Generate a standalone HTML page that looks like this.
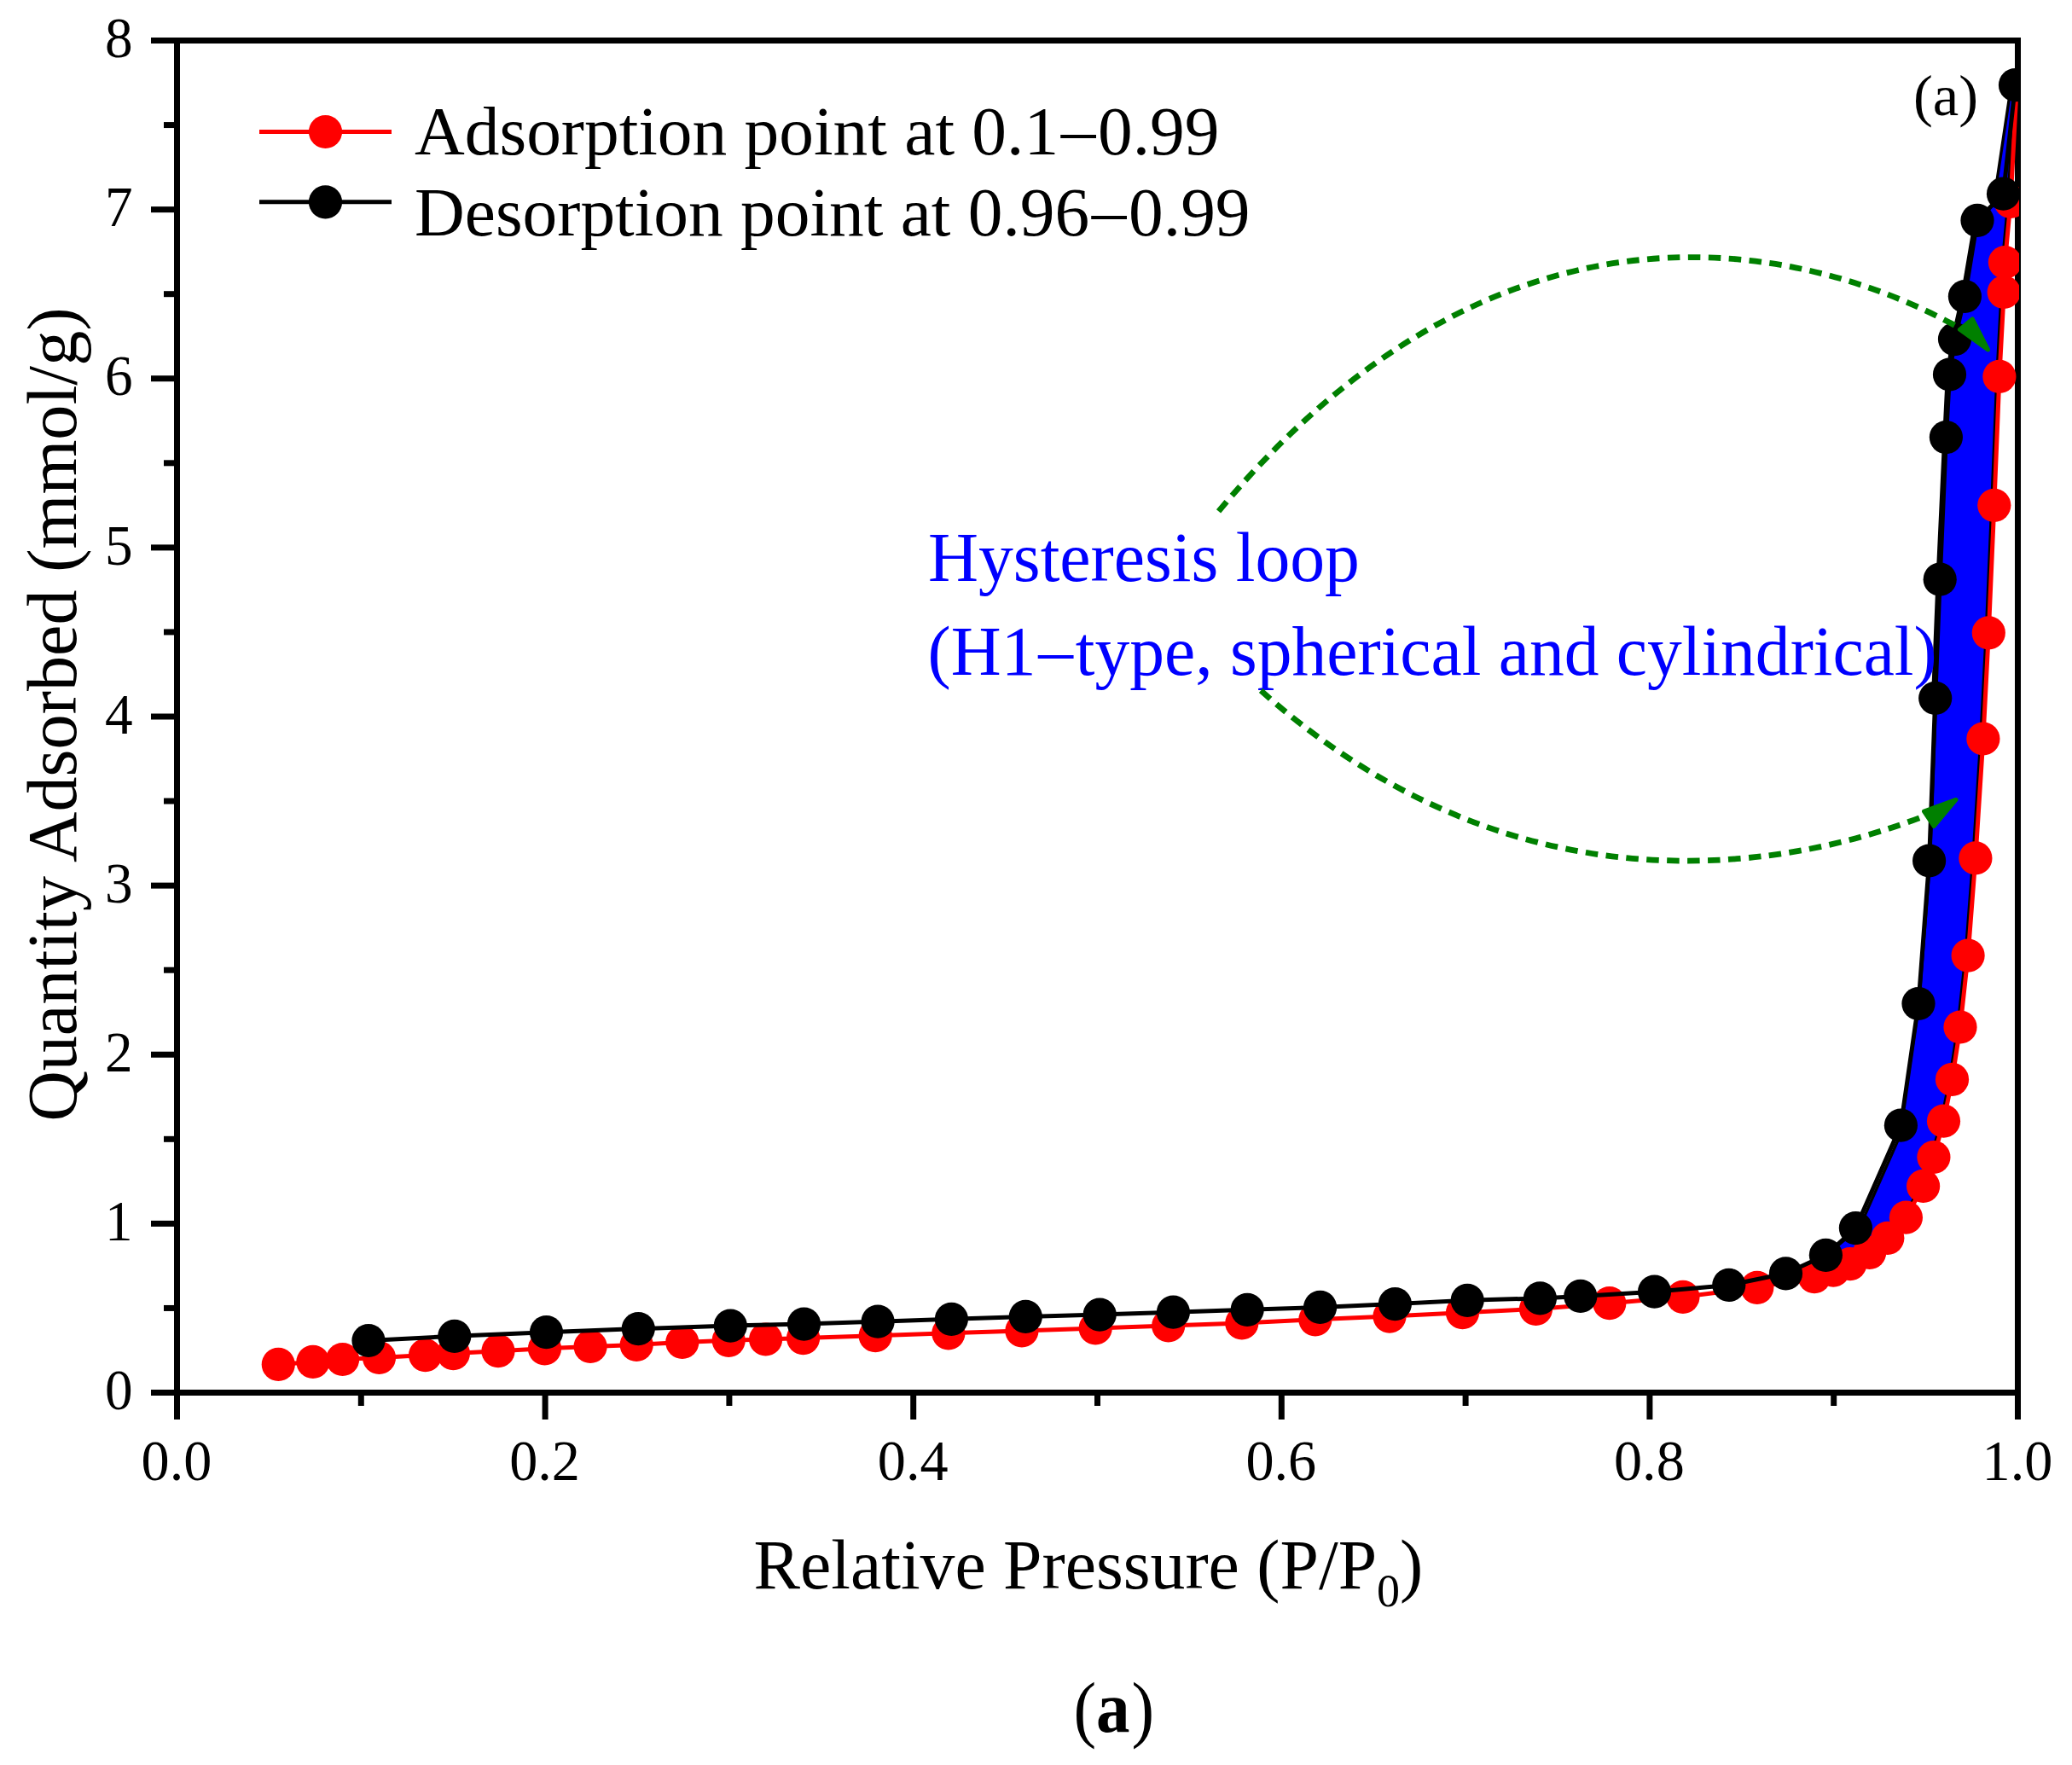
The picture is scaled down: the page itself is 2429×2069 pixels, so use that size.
<!DOCTYPE html>
<html lang="en"><head><meta charset="utf-8"><title>Adsorption isotherm</title>
<style>html,body{margin:0;padding:0;background:#fff}svg{display:block}text{font-family:"Liberation Serif","Times New Roman",serif}</style></head><body>
<svg width="2429" height="2069" viewBox="0 0 2429 2069">
<rect width="2429" height="2069" fill="#fff"/>
<defs><clipPath id="plot"><rect x="204" y="44" width="2163" height="1592"/></clipPath></defs>
<g stroke="#000" stroke-width="7" fill="none" stroke-linecap="butt">
<rect x="207.5" y="47.5" width="2158.0" height="1585.0"/>
<line x1="177" y1="1632.50" x2="207.5" y2="1632.50"/>
<line x1="192" y1="1533.44" x2="207.5" y2="1533.44"/>
<line x1="177" y1="1434.38" x2="207.5" y2="1434.38"/>
<line x1="192" y1="1335.31" x2="207.5" y2="1335.31"/>
<line x1="177" y1="1236.25" x2="207.5" y2="1236.25"/>
<line x1="192" y1="1137.19" x2="207.5" y2="1137.19"/>
<line x1="177" y1="1038.12" x2="207.5" y2="1038.12"/>
<line x1="192" y1="939.06" x2="207.5" y2="939.06"/>
<line x1="177" y1="840.00" x2="207.5" y2="840.00"/>
<line x1="192" y1="740.94" x2="207.5" y2="740.94"/>
<line x1="177" y1="641.88" x2="207.5" y2="641.88"/>
<line x1="192" y1="542.81" x2="207.5" y2="542.81"/>
<line x1="177" y1="443.75" x2="207.5" y2="443.75"/>
<line x1="192" y1="344.69" x2="207.5" y2="344.69"/>
<line x1="177" y1="245.62" x2="207.5" y2="245.62"/>
<line x1="192" y1="146.56" x2="207.5" y2="146.56"/>
<line x1="177" y1="47.50" x2="207.5" y2="47.50"/>
<line x1="207.50" y1="1632.5" x2="207.50" y2="1664"/>
<line x1="423.30" y1="1632.5" x2="423.30" y2="1648"/>
<line x1="639.10" y1="1632.5" x2="639.10" y2="1664"/>
<line x1="854.90" y1="1632.5" x2="854.90" y2="1648"/>
<line x1="1070.70" y1="1632.5" x2="1070.70" y2="1664"/>
<line x1="1286.50" y1="1632.5" x2="1286.50" y2="1648"/>
<line x1="1502.30" y1="1632.5" x2="1502.30" y2="1664"/>
<line x1="1718.10" y1="1632.5" x2="1718.10" y2="1648"/>
<line x1="1933.90" y1="1632.5" x2="1933.90" y2="1664"/>
<line x1="2149.70" y1="1632.5" x2="2149.70" y2="1648"/>
<line x1="2365.50" y1="1632.5" x2="2365.50" y2="1664"/>
</g>
<g font-size="68.5" fill="#000">
<text x="155.5" y="1652.1" text-anchor="end" textLength="32.6" lengthAdjust="spacingAndGlyphs">0</text>
<text x="155.5" y="1454.0" text-anchor="end" textLength="32.6" lengthAdjust="spacingAndGlyphs">1</text>
<text x="155.5" y="1255.8" text-anchor="end" textLength="32.6" lengthAdjust="spacingAndGlyphs">2</text>
<text x="155.5" y="1057.7" text-anchor="end" textLength="32.6" lengthAdjust="spacingAndGlyphs">3</text>
<text x="155.5" y="859.6" text-anchor="end" textLength="32.6" lengthAdjust="spacingAndGlyphs">4</text>
<text x="155.5" y="661.5" text-anchor="end" textLength="32.6" lengthAdjust="spacingAndGlyphs">5</text>
<text x="155.5" y="463.4" text-anchor="end" textLength="32.6" lengthAdjust="spacingAndGlyphs">6</text>
<text x="155.5" y="265.2" text-anchor="end" textLength="32.6" lengthAdjust="spacingAndGlyphs">7</text>
<text x="155.5" y="67.1" text-anchor="end" textLength="32.6" lengthAdjust="spacingAndGlyphs">8</text>
<text x="207.0" y="1735.3" text-anchor="middle" textLength="82.8" lengthAdjust="spacingAndGlyphs">0.0</text>
<text x="638.6" y="1735.3" text-anchor="middle" textLength="82.8" lengthAdjust="spacingAndGlyphs">0.2</text>
<text x="1070.2" y="1735.3" text-anchor="middle" textLength="82.8" lengthAdjust="spacingAndGlyphs">0.4</text>
<text x="1501.8" y="1735.3" text-anchor="middle" textLength="82.8" lengthAdjust="spacingAndGlyphs">0.6</text>
<text x="1933.4" y="1735.3" text-anchor="middle" textLength="82.8" lengthAdjust="spacingAndGlyphs">0.8</text>
<text x="2365.0" y="1735.3" text-anchor="middle" textLength="82.8" lengthAdjust="spacingAndGlyphs">1.0</text>
</g>
<g clip-path="url(#plot)">
<polygon points="2140.4,1471.3 2179.6,1439.6 2232.6,1319.2 2228.4,1319.2 2249.5,1176.5 2262.6,1009.0 2269.7,818.4 2265.7,818.4 2271.2,679.2 2278.9,512.6 2282.5,439.0 2288.5,397.6 2299.9,347.5 2314.4,262.0 2318.0,258.4 2348.5,227.2 2339.5,222.0 2355.3,116.0 2362.5,100.0 2361.3,100.0 2354.0,236.3 2347.4,307.5 2346.2,342.5 2340.9,441.4 2334.8,592.3 2328.3,741.8 2321.9,866.0 2312.9,1005.9 2304.1,1120.1 2295.0,1204.0 2285.5,1265.3 2275.5,1314.2 2263.9,1356.5 2251.6,1390.4 2231.4,1427.2 2209.8,1451.3 2188.7,1468.3 2165.9,1481.6 2146.2,1489.1 2124.0,1496.6" fill="#0000ff" stroke="#000" stroke-width="3.4" stroke-linejoin="round"/>
<polyline points="326.3,1599.4 366.9,1596.4 401.6,1593.5 444.5,1591.5 498.6,1588.6 531.4,1586.6 584.0,1583.7 638.5,1580.8 692.1,1578.5 746.2,1576.4 799.8,1573.5 854.2,1571.3 897.6,1570.0 941.6,1568.6 1026.2,1565.7 1111.9,1562.8 1197.9,1559.9 1284.2,1557.0 1369.7,1554.0 1455.8,1550.9 1541.9,1546.8 1629.0,1543.1 1714.5,1538.7 1800.5,1534.4 1886.8,1527.7 1972.9,1520.3 2059.8,1509.3 2127.0,1496.6 2149.2,1489.1 2168.9,1481.6 2191.7,1468.3 2212.8,1451.3 2234.4,1427.2 2254.6,1390.4 2266.9,1356.5 2278.5,1314.2 2288.5,1265.3 2298.0,1204.0 2307.1,1120.1 2315.9,1005.9 2324.9,866.0 2331.3,741.8 2337.8,592.3 2343.9,441.4 2349.2,342.5 2350.4,307.5 2357.0,236.3 2364.3,100.0" fill="none" stroke="#ff0000" stroke-width="5" stroke-linejoin="round"/>
<g fill="#ff0000"><circle cx="326.3" cy="1599.4" r="19.6"/><circle cx="366.9" cy="1596.4" r="19.6"/><circle cx="401.6" cy="1593.5" r="19.6"/><circle cx="444.5" cy="1591.5" r="19.6"/><circle cx="498.6" cy="1588.6" r="19.6"/><circle cx="531.4" cy="1586.6" r="19.6"/><circle cx="584.0" cy="1583.7" r="19.6"/><circle cx="638.5" cy="1580.8" r="19.6"/><circle cx="692.1" cy="1578.5" r="19.6"/><circle cx="746.2" cy="1576.4" r="19.6"/><circle cx="799.8" cy="1573.5" r="19.6"/><circle cx="854.2" cy="1571.3" r="19.6"/><circle cx="897.6" cy="1570.0" r="19.6"/><circle cx="941.6" cy="1568.6" r="19.6"/><circle cx="1026.2" cy="1565.7" r="19.6"/><circle cx="1111.9" cy="1562.8" r="19.6"/><circle cx="1197.9" cy="1559.9" r="19.6"/><circle cx="1284.2" cy="1557.0" r="19.6"/><circle cx="1369.7" cy="1554.0" r="19.6"/><circle cx="1455.8" cy="1550.9" r="19.6"/><circle cx="1541.9" cy="1546.8" r="19.6"/><circle cx="1629.0" cy="1543.1" r="19.6"/><circle cx="1714.5" cy="1538.7" r="19.6"/><circle cx="1800.5" cy="1534.4" r="19.6"/><circle cx="1886.8" cy="1527.7" r="19.6"/><circle cx="1972.9" cy="1520.3" r="19.6"/><circle cx="2059.8" cy="1509.3" r="19.6"/><circle cx="2127.0" cy="1496.6" r="19.6"/><circle cx="2149.2" cy="1489.1" r="19.6"/><circle cx="2168.9" cy="1481.6" r="19.6"/><circle cx="2191.7" cy="1468.3" r="19.6"/><circle cx="2212.8" cy="1451.3" r="19.6"/><circle cx="2234.4" cy="1427.2" r="19.6"/><circle cx="2254.6" cy="1390.4" r="19.6"/><circle cx="2266.9" cy="1356.5" r="19.6"/><circle cx="2278.5" cy="1314.2" r="19.6"/><circle cx="2288.5" cy="1265.3" r="19.6"/><circle cx="2298.0" cy="1204.0" r="19.6"/><circle cx="2307.1" cy="1120.1" r="19.6"/><circle cx="2315.9" cy="1005.9" r="19.6"/><circle cx="2324.9" cy="866.0" r="19.6"/><circle cx="2331.3" cy="741.8" r="19.6"/><circle cx="2337.8" cy="592.3" r="19.6"/><circle cx="2343.9" cy="441.4" r="19.6"/><circle cx="2349.2" cy="342.5" r="19.6"/><circle cx="2350.4" cy="307.5" r="19.6"/><circle cx="2357.0" cy="236.3" r="19.6"/></g>
<polyline points="432.0,1571.5 532.8,1566.3 640.5,1561.7 748.3,1557.6 856.3,1554.1 942.5,1552.1 1029.1,1549.2 1115.4,1546.3 1202.3,1543.4 1289.2,1541.1 1375.4,1538.2 1462.2,1535.3 1547.6,1532.4 1635.4,1528.6 1720.2,1524.3 1805.4,1521.9 1852.8,1519.4 1939.5,1514.2 2026.8,1506.4 2093.5,1492.8 2140.4,1471.3 2175.4,1439.6 2228.4,1319.2 2249.0,1176.5 2261.6,1009.0 2268.7,818.4 2274.2,679.2 2281.4,512.6 2285.5,439.0 2291.5,397.6 2303.4,347.5 2318.0,258.4 2348.5,227.2 2362.5,99.7" fill="none" stroke="#000" stroke-width="5" stroke-linejoin="round"/>
<g fill="#000"><circle cx="432.0" cy="1571.5" r="19.6"/><circle cx="532.8" cy="1566.3" r="19.6"/><circle cx="640.5" cy="1561.7" r="19.6"/><circle cx="748.3" cy="1557.6" r="19.6"/><circle cx="856.3" cy="1554.1" r="19.6"/><circle cx="942.5" cy="1552.1" r="19.6"/><circle cx="1029.1" cy="1549.2" r="19.6"/><circle cx="1115.4" cy="1546.3" r="19.6"/><circle cx="1202.3" cy="1543.4" r="19.6"/><circle cx="1289.2" cy="1541.1" r="19.6"/><circle cx="1375.4" cy="1538.2" r="19.6"/><circle cx="1462.2" cy="1535.3" r="19.6"/><circle cx="1547.6" cy="1532.4" r="19.6"/><circle cx="1635.4" cy="1528.6" r="19.6"/><circle cx="1720.2" cy="1524.3" r="19.6"/><circle cx="1805.4" cy="1521.9" r="19.6"/><circle cx="1852.8" cy="1519.4" r="19.6"/><circle cx="1939.5" cy="1514.2" r="19.6"/><circle cx="2026.8" cy="1506.4" r="19.6"/><circle cx="2093.5" cy="1492.8" r="19.6"/><circle cx="2140.4" cy="1471.3" r="19.6"/><circle cx="2175.4" cy="1439.6" r="19.6"/><circle cx="2228.4" cy="1319.2" r="19.6"/><circle cx="2249.0" cy="1176.5" r="19.6"/><circle cx="2261.6" cy="1009.0" r="19.6"/><circle cx="2268.7" cy="818.4" r="19.6"/><circle cx="2274.2" cy="679.2" r="19.6"/><circle cx="2281.4" cy="512.6" r="19.6"/><circle cx="2285.5" cy="439.0" r="19.6"/><circle cx="2291.5" cy="397.6" r="19.6"/><circle cx="2303.4" cy="347.5" r="19.6"/><circle cx="2318.0" cy="258.4" r="19.6"/><circle cx="2348.5" cy="227.2" r="19.6"/><circle cx="2362.5" cy="99.7" r="19.6"/></g>
</g>
<g fill="#0000ff"><text x="1088" y="681.2" font-size="81.7">Hysteresis loop</text><text x="1087.6" y="791" font-size="81.56">(H1<tspan dx="2.8" dy="-2">–</tspan><tspan dx="2.8" dy="2">type, spherical and cylindrical)</tspan></text></g>
<g fill="none" stroke="#008000" stroke-width="6.8" stroke-dasharray="14.5 9.45">
<path d="M1427.7,600.4 C1753.2,207.9 2107.4,278.5 2299.2,385.5" stroke-dashoffset="-1.3"/>
<path d="M1477.3,808.8 C1790.0,1088.2 2116.6,1010.4 2255.9,956.6" stroke-dashoffset="-1.1"/>
</g>
<g fill="#008000" stroke="#008000" stroke-width="5" stroke-linejoin="round">
<polygon points="2297.4,386.3 2312.2,373.8 2330.5,409.9"/>
<polygon points="2255.5,951.2 2267.2,968.5 2293,937.4"/>
</g>
<g stroke-width="5"><line x1="304" y1="154.5" x2="459" y2="154.5" stroke="#ff0000"/><line x1="304" y1="236.8" x2="459" y2="236.8" stroke="#000"/></g>
<circle cx="381.5" cy="154.5" r="19.6" fill="#ff0000"/><circle cx="381.5" cy="236.8" r="19.6" fill="#000"/>
<g font-size="81.4" fill="#000"><text x="486" y="180.5">Adsorption point at 0.1<tspan dx="2.6" dy="-2">–</tspan><tspan dx="2.6" dy="2">0.99</tspan></text><text x="486" y="276">Desorption point at 0.96<tspan dx="2.6" dy="-2">–</tspan><tspan dx="2.6" dy="2">0.99</tspan></text></g>
<text x="2243" y="135.2" font-size="68.5" fill="#000">(a)</text>
<text x="883.5" y="1862" font-size="81.7" fill="#000">Relative Pressure (P/P<tspan font-size="54" dy="21">0</tspan><tspan dy="-21">)</tspan></text>
<text transform="translate(89,837.5) rotate(-90)" font-size="82.2" text-anchor="middle" fill="#000">Quantity Adsorbed (mmol/g)</text>
<text transform="translate(0,2031.5) scale(0.93,1)" font-size="86" fill="#000"><tspan x="1353.2">(</tspan><tspan x="1381.7" dy="-1.3" font-size="85" font-weight="bold">a</tspan><tspan x="1426.3" dy="1.3">)</tspan></text>
</svg></body></html>
